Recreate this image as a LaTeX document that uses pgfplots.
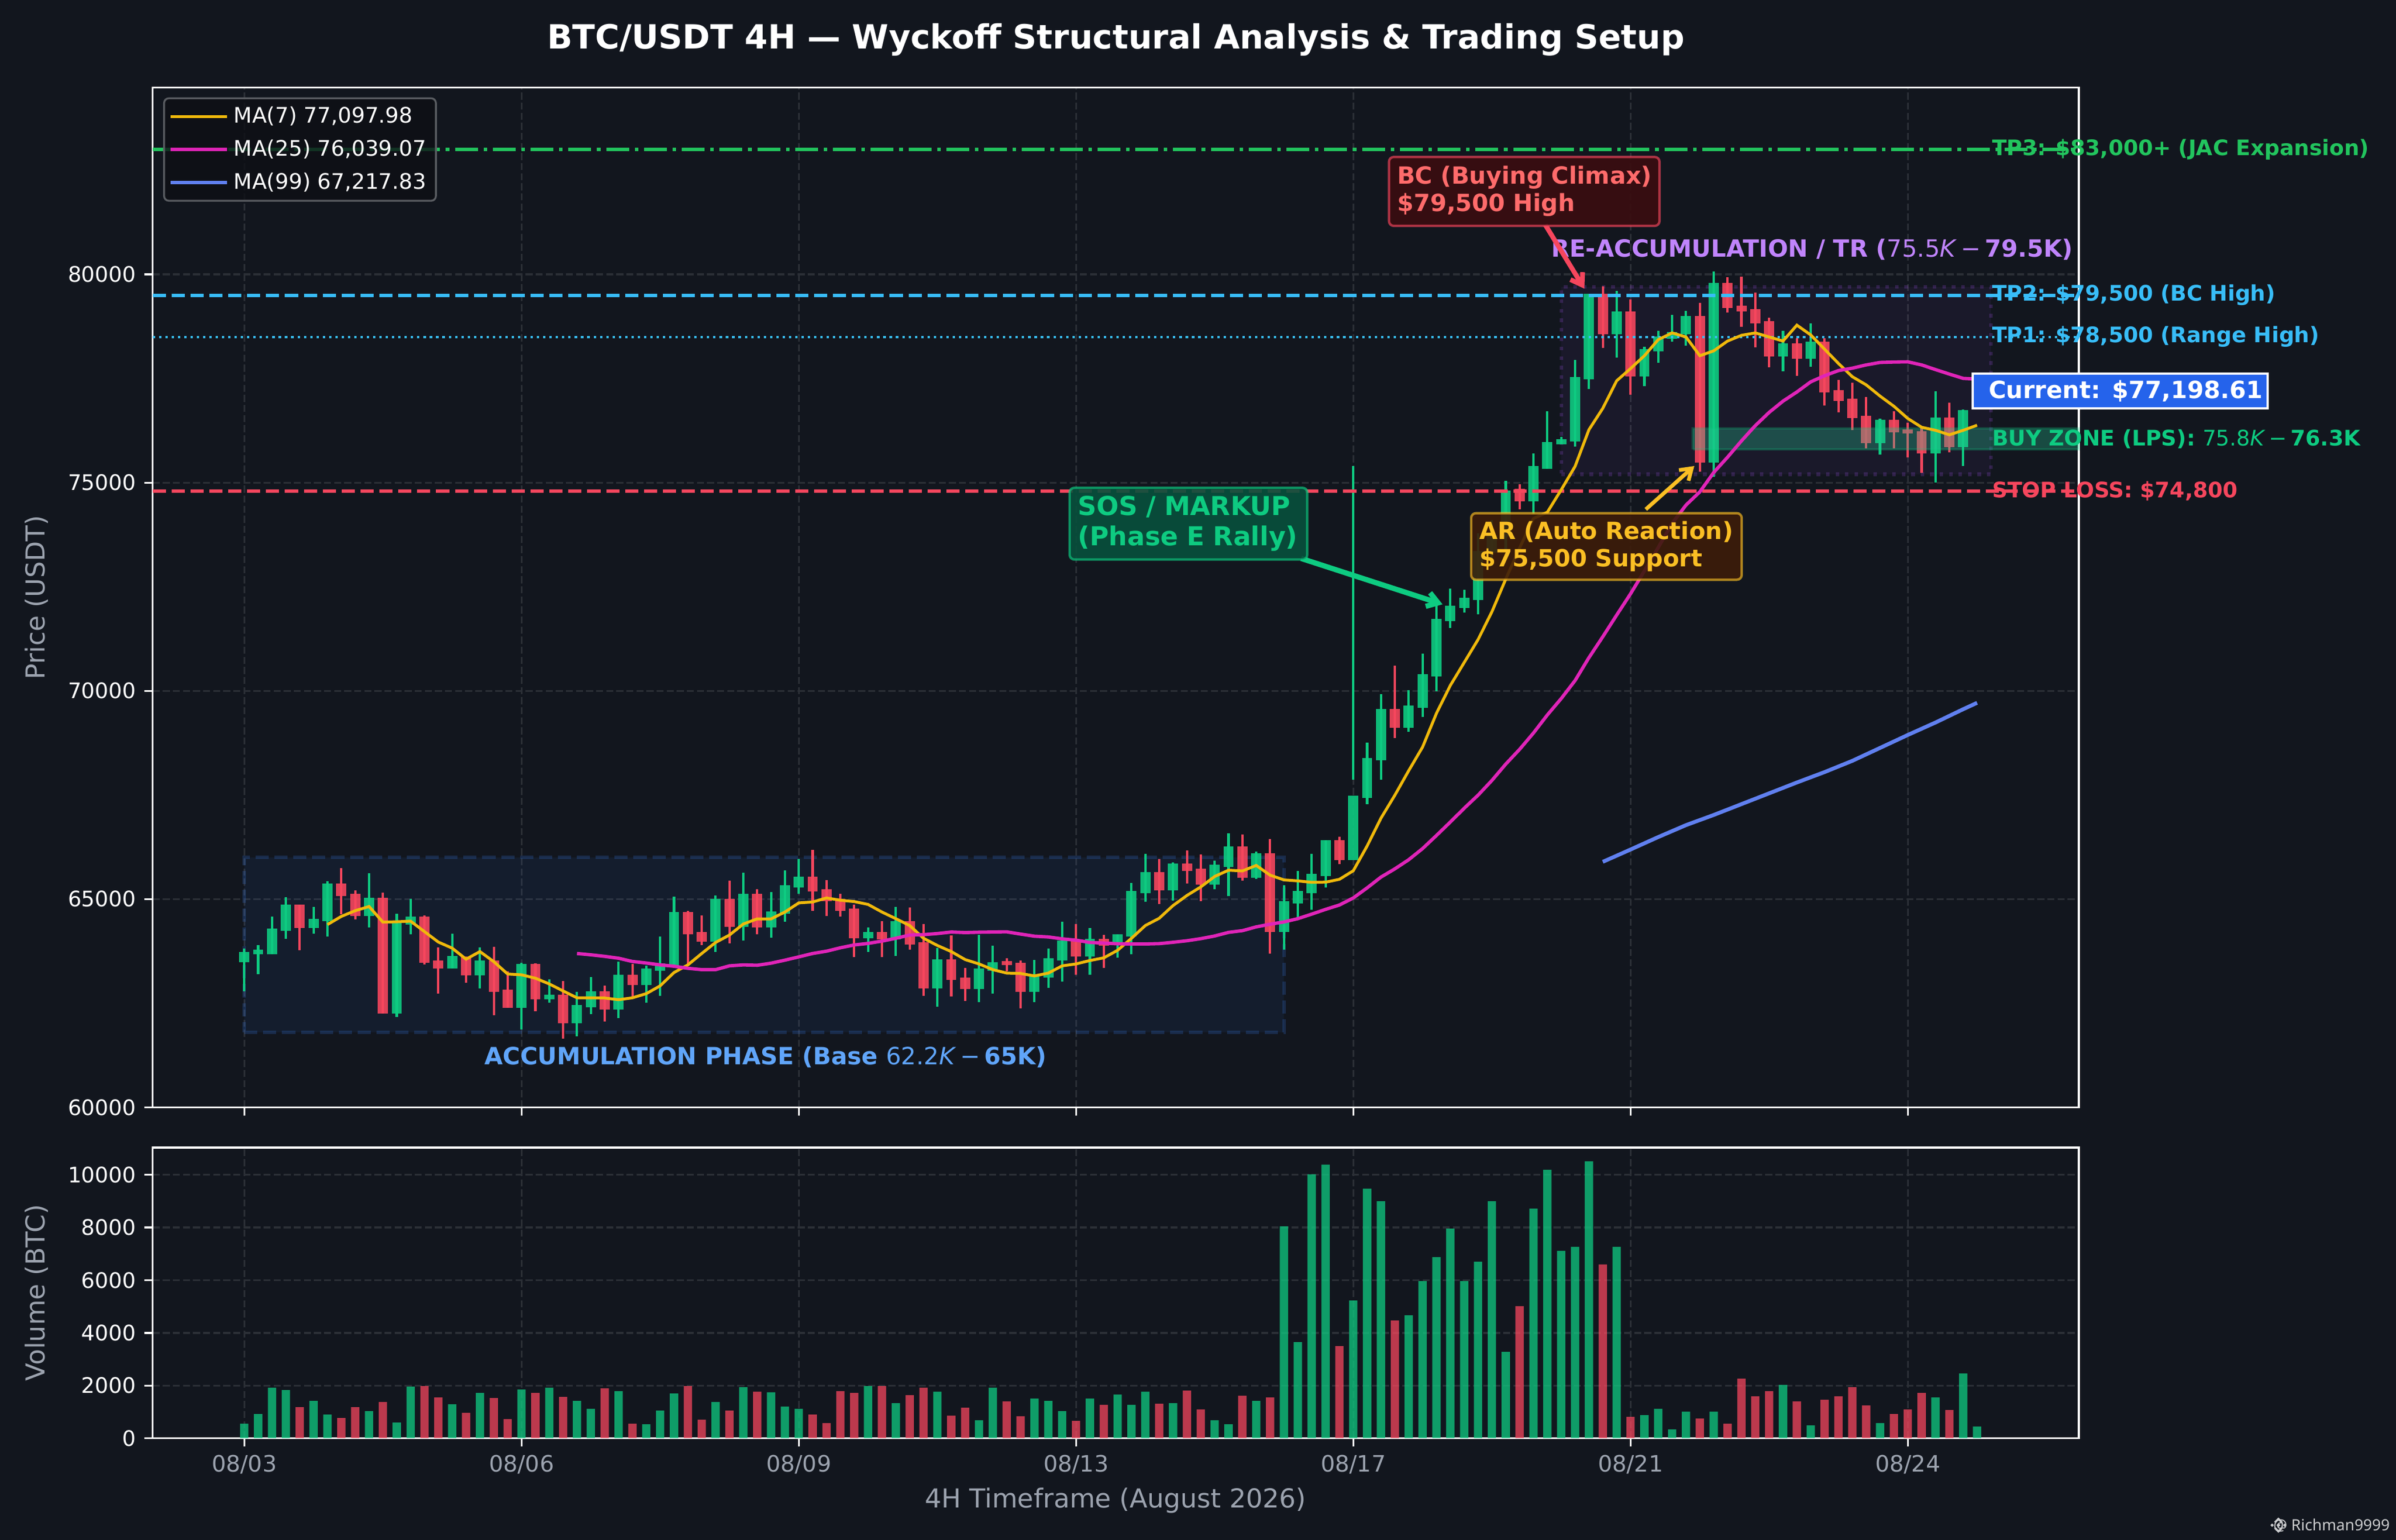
\documentclass[border=0pt]{standalone}
\usepackage{pgfplots}
\usepackage{pgfplotstable}
\usepackage{fontspec}
\setmainfont{DejaVu Sans}
\newfontfamily\wmfont{Noto Sans}
\pgfplotsset{compat=1.18}
\usetikzlibrary{arrows.meta}
\definecolor{bg}{HTML}{12161E}
\definecolor{gridc}{HTML}{2B2F36}
\definecolor{cg}{HTML}{0ECB81}
\definecolor{cr}{HTML}{F6465D}
\definecolor{ma7}{HTML}{F0B90B}
\definecolor{ma25}{HTML}{E024B8}
\definecolor{ma99}{HTML}{6080F0}
\definecolor{tpb}{HTML}{38BDF8}
\definecolor{tpg}{HTML}{22C55E}
\definecolor{lab}{HTML}{9CA3AF}
\definecolor{acc}{HTML}{3B82F6}
\definecolor{acct}{HTML}{60A5FA}
\definecolor{pur}{HTML}{A855F7}
\definecolor{purt}{HTML}{C084FC}
\definecolor{amb}{HTML}{FBBF24}
\definecolor{bcT}{HTML}{FF6B6B}
\newcommand\fs[1]{\fontsize{#1bp}{#1bp}\selectfont}
% i  body-low  body-high  low  high
\pgfplotstableread{
i bl bh lo hi
0 63484 63730 62780 63808
1 63676 63785 63191 63890
2 63676 64292 63676 64575
3 64237 64868 64050 65041
5 64306 64525 64173 64808
6 64470 65374 64105 65425
9 64594 65032 64324 65617
11 62251 64470 62173 64644
12 64388 64580 64160 65000
15 63333 63634 63333 64164
17 63169 63525 62858 63835
20 62388 63443 61872 63465
22 62593 62703 62516 63068
24 62018 62456 61707 62767
25 62401 62785 62242 63123
27 62347 63182 62146 63497
29 62936 63333 62516 63397
30 63278 63456 62680 64096
31 63374 64689 63374 65055
34 63977 65005 63726 65082
36 64333 65128 64000 65630
38 64320 64703 64077 65164
39 64648 65333 64461 65685
40 65279 65539 65123 65959
45 64059 64210 63726 64315
47 64032 64470 63630 64808
50 62854 63552 62420 63822
53 62840 63333 62529 64146
54 63278 63484 62735 63877
57 62771 63146 62529 63534
58 63114 63580 62872 63808
59 63525 64004 63023 64452
61 63621 64045 63187 64301
63 63899 64155 63589 64155
64 64100 65196 63680 65384
65 65142 65649 64931 66082
67 65210 65854 64959 65877
70 65347 65827 65233 65918
71 65772 66265 65069 66576
73 65511 66101 65480 66137
75 64210 64950 63781 65329
76 64895 65196 64562 65671
77 65142 65607 64740 66082
78 65553 66416 65274 66416
80 65936 67480 65936 65936
81 67424 68384 67283 68754
82 68329 69564 67865 69925
84 69115 69650 69013 70020
85 69595 70397 69367 70900
86 70350 71726 69996 72096
87 71671 72048 71506 72450
88 71993 72237 71876 72434
89 72182 73354 71844 73779
90 73315 73747 73000 74100
91 73700 74809 73400 75045
93 74549 75399 74235 75700
94 75332 75978 75332 76712
95 75924 76046 75924 76095
96 75993 77539 75861 77945
97 77485 79540 77255 79540
99 78566 79114 77999 79599
101 77554 78209 77319 78263
102 78155 78513 77876 78645
103 78459 78620 78385 79026
104 78566 79007 78287 79124
106 75484 79799 75136 80069
111 78033 78346 77671 78645
113 77979 78390 77779 78821
118 75949 76511 75675 76536
122 75704 76565 74999 77191
124 75856 76746 75401 76751
125 77000 77198 76900 77400
}\greencandles
\pgfplotstableread{
i bl bh lo hi
4 64306 64868 63776 64868
7 65073 65374 64630 65740
8 64594 65128 64507 65205
10 62251 65032 62251 65151
13 63470 64580 63434 64603
14 63333 63525 62735 63835
16 63169 63603 62986 63625
18 62771 63525 62205 63849
19 62388 62826 62388 63260
21 62593 63443 62310 63452
23 62018 62703 61652 63027
26 62347 62785 62063 62917
28 62936 63182 62666 63443
32 64155 64689 63443 64721
33 63977 64210 63899 64603
35 64333 65005 63940 65438
37 64320 65128 64160 65233
41 65183 65539 64721 66178
42 64950 65237 64598 65452
43 64717 65005 64584 65123
44 64059 64772 63603 64863
46 64032 64210 63603 64466
48 63909 64470 63790 64794
49 62854 63963 62680 64397
51 63059 63552 62666 64123
52 62840 63114 62557 63342
55 63415 63511 63260 63575
56 62771 63470 62379 63520
60 63621 63991 63187 64397
62 63881 64045 63342 64137
66 65210 65649 64877 65959
68 65676 65854 65370 66165
69 65347 65731 64945 66069
72 65511 66265 65438 66548
74 64210 66101 63694 66439
79 65936 66416 65836 66493
83 69115 69564 68871 70602
92 74549 74848 74361 74966
98 78566 79540 78229 79711
100 77554 79114 77108 79393
105 75484 79007 75259 79315
107 79197 79799 79080 79932
108 79114 79251 78742 79946
109 78826 79168 78248 79560
110 78033 78885 77764 78958
112 77979 78346 77558 78473
114 77172 78390 76849 78473
115 76966 77226 76687 77465
116 76555 77020 76262 77397
117 75949 76609 75831 77055
119 76213 76511 75831 76712
120 76184 76281 75611 76438
121 75704 76237 75234 76330
123 75856 76565 75724 76917
}\redcandles
\pgfplotstableread{
i v
0 555
1 923
2 1919
3 1833
5 1421
6 902
9 1032
11 599
12 1962
15 1291
17 1724
20 1854
22 1919
24 1421
25 1118
27 1789
29 534
30 1053
31 1703
34 1378
36 1941
38 1746
39 1205
40 1118
45 1984
47 1335
50 1768
53 685
54 1919
57 1508
58 1421
59 1032
61 1508
63 1659
64 1270
65 1768
67 1335
70 685
71 534
73 1421
75 8045
76 3651
77 10015
78 10383
80 5231
81 9473
82 8997
84 4668
85 5967
86 6876
87 7958
88 5967
89 6703
90 8997
91 3283
93 8716
94 10188
95 7114
96 7265
97 10512
99 7265
101 880
102 1118
103 339
104 1010
106 1010
111 2027
113 491
118 577
122 1551
124 2460
125 447
}\greenvol
\pgfplotstableread{
i v
4 1183
7 772
8 1183
10 1378
13 1984
14 1551
16 967
18 1530
19 729
21 1724
23 1573
26 1898
28 555
32 1984
33 707
35 1053
37 1768
41 902
42 577
43 1789
44 1724
46 1984
48 1638
49 1919
51 859
52 1162
55 1400
56 837
60 664
62 1270
66 1313
68 1811
69 1097
72 1616
74 1551
79 3499
83 4473
92 5014
98 6595
100 815
105 750
107 555
108 2266
109 1594
110 1789
112 1400
114 1465
115 1594
116 1941
117 1248
119 923
120 1097
121 1724
123 1075
}\redvol
\pgfplotstableread{
i p
6 64388
7 64584
8 64721
9 64822
10 64447
11 64456
12 64470
13 64219
14 63968
15 63822
16 63557
17 63740
18 63497
19 63201
20 63182
21 63100
22 62963
23 62794
24 62630
25 62630
26 62625
27 62584
28 62630
29 62730
30 62917
31 63237
32 63420
33 63694
34 63959
35 64137
36 64402
37 64525
38 64525
39 64689
40 64909
41 64931
42 65027
43 64973
44 64941
45 64872
46 64689
47 64530
48 64365
49 64059
50 63886
51 63740
52 63548
53 63443
54 63306
55 63223
56 63214
57 63155
58 63223
59 63397
60 63443
61 63525
62 63589
63 63771
64 64059
65 64365
66 64539
67 64845
68 65087
69 65292
70 65543
71 65694
72 65676
73 65808
74 65575
75 65461
76 65438
77 65402
78 65406
79 65475
80 65680
81 66276
82 66945
83 67495
84 68085
85 68651
86 69461
87 70130
88 70680
89 71231
90 71899
91 72685
92 73433
93 74140
94 74290
95 74828
96 75391
97 76271
98 76785
99 77446
100 77739
101 78048
102 78434
103 78596
104 78498
105 78048
106 78165
107 78400
108 78537
109 78596
110 78498
111 78400
112 78782
113 78547
114 78204
115 77862
116 77544
117 77348
118 77079
119 76834
120 76541
121 76330
122 76257
123 76149
124 76257
125 76379
}\maseven
\pgfplotstableread{
i p
24 63694
25 63662
26 63625
27 63580
28 63502
29 63465
30 63420
31 63388
32 63338
33 63306
34 63306
35 63397
36 63420
37 63411
38 63461
39 63534
40 63612
41 63694
42 63749
43 63831
44 63899
45 63936
46 63991
47 64059
48 64137
49 64146
50 64173
51 64210
52 64196
53 64205
54 64210
55 64214
56 64160
57 64109
58 64091
59 64045
60 64014
61 63959
62 63945
63 63927
64 63922
65 63922
66 63931
67 63963
68 64000
69 64050
70 64114
71 64201
72 64242
73 64333
74 64397
75 64452
76 64530
77 64639
78 64753
79 64858
80 65027
81 65270
82 65529
83 65726
84 65946
85 66213
86 66528
87 66850
88 67181
89 67495
90 67849
91 68242
92 68596
93 68989
94 69422
95 69815
96 70248
97 70798
98 71300
99 71820
100 72330
101 72880
102 73443
103 74021
104 74461
105 74779
106 75244
107 75611
108 76002
109 76369
110 76687
111 76957
112 77177
113 77421
114 77568
115 77691
116 77749
117 77827
118 77886
119 77896
120 77901
121 77827
122 77715
123 77607
124 77504
125 77486
}\matwentyfive
\pgfplotstableread{
i p
98 65895
100 66190
102 66490
104 66776
106 67020
108 67280
110 67540
112 67800
114 68050
116 68320
118 68630
120 68941
122 69240
124 69560
125 69713
}\manintynine
\tikzset{
  dashmpl/.style={dash pattern=on 5.55bp off 2.4bp},
}
\pgfplotsset{
  myaxis/.style={
    scale only axis, clip=false,
    xmin=-6.61, xmax=132.34,
    xtick={0,20,40,60,80,100,120},
    tick align=outside, xtick pos=bottom, ytick pos=left,
    major tick length=3.5bp,
    tick style={white,line width=0.8bp},
    axis line style={white,line width=0.8bp},
    grid=major,
    grid style={gridc,line width=0.8bp,dash pattern=on 2.96bp off 1.28bp},
    scaled ticks=false,
    /pgf/number format/assume math mode=true,
    /pgf/number format/1000 sep={},
    yticklabel style={text=white,font=\fs{9}},
    xticklabel style={text=lab,font=\fs{9.5}},
    label style={text=lab,font=\fs{11}},
    ylabel style={at={(axis description cs:-0.0603,0.5)},anchor=center},
  },
  wick/.style={draw=none,no markers,forget plot,
    error bars/.cd,y dir=plus,y explicit,error mark=none,
    error bar style={solid,draw=#1,line width=1bp}},
  body/.style={draw=none,no markers,forget plot,
    error bars/.cd,y dir=plus,y explicit,error mark=none,
    error bar style={solid,draw=#1,line width=4.3bp,draw opacity=0.9}},
}
\begin{document}
\begin{tikzpicture}
\fill[bg] (0,0) rectangle (1008bp,648bp);
\useasboundingbox (0,0) rectangle (1008bp,648bp);
\begin{axis}[myaxis,
  at={(64.22bp,182.06bp)}, anchor=south west,
  width=810.34bp, height=429.14bp,
  ymin=60000, ymax=84490,
  ytick={60000,65000,70000,75000,80000},
  xticklabels={},
  ylabel={Price (USDT)},
  legend style={at={(0.00545,0.9903)},anchor=north west,
    fill=black!30!bg,fill opacity=0.8,text opacity=1,draw=white!30!bg,
    line width=0.8bp,rounded corners=2bp,font=\fs{9},text=white,
    row sep=1.6bp,inner xsep=2bp,inner ysep=1.5bp},
  legend cell align=left,
  legend image code/.code={\draw[#1] (0bp,0bp) -- (19.2bp,0bp); \path (0bp,0bp) -- (23.7bp,0bp);},
]
% shaded structure boxes
\addplot[forget plot,fill=acc,fill opacity=0.07,draw=acc,draw opacity=0.2,line width=1.5bp,dashmpl]
  coordinates {(0,61800)(75,61800)(75,66000)(0,66000)(0,61800)};
\addplot[forget plot,fill=pur,fill opacity=0.06,draw=pur,draw opacity=0.2,line width=1.5bp,dash pattern=on 1.5bp off 2.48bp]
  coordinates {(95,75200)(126,75200)(126,79700)(95,79700)(95,75200)};
% candles
\addplot[wick=cg] table[x=i,y=lo,y error expr=\thisrow{hi}-\thisrow{lo}]{\greencandles};
\addplot[wick=cr] table[x=i,y=lo,y error expr=\thisrow{hi}-\thisrow{lo}]{\redcandles};
\addplot[forget plot,cg,line width=1bp] coordinates {(80,67865)(80,75398)};
\addplot[body=cg] table[x=i,y=bl,y error expr=\thisrow{bh}-\thisrow{bl}]{\greencandles};
\addplot[body=cr] table[x=i,y=bl,y error expr=\thisrow{bh}-\thisrow{bl}]{\redcandles};
% buy zone
\addplot[forget plot,fill={rgb,255:red,40;green,200;blue,150},fill opacity=0.3,draw=cg,draw opacity=0.25,line width=1bp]
  coordinates {(104.5,75800)(132.34,75800)(132.34,76300)(104.5,76300)(104.5,75800)};
% levels
\addplot[forget plot,tpg,line width=1.5bp,dash pattern=on 9.6bp off 2.4bp on 1.5bp off 2.4bp] coordinates {(-6.61,83000)(132.34,83000)};
\addplot[forget plot,tpb,line width=1.5bp,dashmpl] coordinates {(-6.61,79500)(132.34,79500)};
\addplot[forget plot,tpb,line width=1bp,dash pattern=on 1bp off 1.65bp] coordinates {(-6.61,78500)(132.34,78500)};
\addplot[forget plot,cr,line width=1.5bp,dashmpl] coordinates {(-6.61,74800)(132.34,74800)};
% moving averages
\addplot[ma7,line width=1.2bp] table[x=i,y=p]{\maseven};
\addlegendentry{MA(7) 77,097.98}
\addplot[ma25,line width=1.4bp] table[x=i,y=p]{\matwentyfive};
\addlegendentry{MA(25) 76,039.07}
\addplot[ma99,line width=1.6bp] table[x=i,y=p]{\manintynine};
\addlegendentry{MA(99) 67,217.83}
% level labels
\tikzset{lv/.style={anchor=west,inner sep=0pt,font=\fs{9}\bfseries}}
\node[lv,text=tpg] at (axis cs:126.05,83000) {TP3: \$83,000+ (JAC Expansion)};
\node[lv,text=tpb] at (axis cs:126.05,79500) {TP2: \$79,500 (BC High)};
\node[lv,text=tpb] at (axis cs:126.05,78500) {TP1: \$78,500 (Range High)};
\node[lv,text=cg] at (axis cs:126.05,76050) {BUY ZONE (LPS): {\mdseries 75.8\textit{K}\,−\,}76.3K};
\node[lv,text=cr] at (axis cs:126.05,74800) {STOP LOSS: \$74,800};
% phase labels
\node[text=acct,font=\fs{10}\bfseries,inner sep=0pt] at (axis cs:37.6,61200) {ACCUMULATION PHASE (Base {\mdseries 62.2\textit{K}\,−\,}65K)};
\node[text=purt,font=\fs{10}\bfseries,inner sep=0pt] at (axis cs:113.1,80600) {RE-ACCUMULATION / TR ({\mdseries 75.5\textit{K}\,−\,}79.5K)};
% current price
\node[anchor=west,fill={rgb,255:red,37;green,99;blue,235},draw=white,line width=1bp,text=white,
  font=\fs{10}\bfseries,inner xsep=0pt,inner ysep=0pt,minimum height=14.5bp,minimum width=124bp,
  text width=124bp,align=right] at (axis cs:124.6,77200) {Current: \$77,198.61\hspace*{2bp}};
% annotations
\draw[-{Straight Barb[length=4.5bp,width=6bp]},cr,line width=2bp] (axis cs:93.85,81192) -- (axis cs:96.67,79658);
\draw[-{Straight Barb[length=4.5bp,width=6bp]},amb,line width=1.6bp] (axis cs:101.1,74358) -- (axis cs:104.6,75399);
\draw[-{Straight Barb[length=4.5bp,width=6bp]},cg,line width=2.2bp] (axis cs:76.24,73180) -- (axis cs:86.44,72078);
\tikzset{ann/.style={anchor=north west,rounded corners=2bp,line width=1bp,fill opacity=0.9,draw opacity=0.65,text opacity=1,
   inner xsep=3.5bp,inner ysep=0pt,align=left}}
\node[ann,fill={rgb,255:red,58;green,13;blue,16},draw=cr,text=bcT,font=\fontsize{10}{11.6}\selectfont\bfseries,
  minimum width=113.8bp,minimum height=29bp,text width=106.8bp] at (axis cs:82.49,82849) {\mbox{BC (Buying Climax)}\\\mbox{\$79,500 High}};
\node[ann,fill={rgb,255:red,61;green,28;blue,10},draw=amb,text=amb,font=\fontsize{10}{11.6}\selectfont\bfseries,
  minimum width=113.8bp,minimum height=28bp,text width=106.8bp] at (axis cs:88.42,74295) {\mbox{AR (Auto Reaction)}\\\mbox{\$75,500 Support}};
\node[ann,fill={rgb,255:red,8;green,80;blue,60},draw=cg,text=cg,font=\fontsize{11}{12.8}\selectfont\bfseries,
  minimum width=100bp,minimum height=30.2bp,text width=93bp] at (axis cs:59.45,74906) {\mbox{SOS / MARKUP}\\\mbox{(Phase E Rally)}};
\end{axis}
\begin{axis}[myaxis,
  at={(64.22bp,42.79bp)}, anchor=south west,
  width=810.34bp, height=122.33bp,
  ymin=0, ymax=11032,
  ytick={0,2000,4000,6000,8000,10000},
  xticklabels={08/03,08/06,08/09,08/13,08/17,08/21,08/24},
  ylabel={Volume (BTC)},
  xlabel={4H Timeframe (August 2026)},
  xlabel style={at={(axis description cs:0.5,-0.2144)},anchor=center},
]
\addplot[ybar,bar width=3.5bp,bar shift=0pt,fill=cg,fill opacity=0.75,draw=none] table[x=i,y=v]{\greenvol};
\addplot[ybar,bar width=3.5bp,bar shift=0pt,fill=cr,fill opacity=0.75,draw=none] table[x=i,y=v]{\redvol};
\end{axis}
% title
\node[text=white,font=\fs{14}\bfseries,inner sep=0pt] at (469.44bp,631.2bp) {BTC/USDT 4H — Wyckoff Structural Analysis \& Trading Setup};
% watermark
\node[anchor=east,text=white!78!bg,font=\wmfont\fs{6.5},inner sep=0pt] at (1005.6bp,6.24bp) {@ Richman9999};
\begin{scope}[shift={(958.5bp,6.24bp)},x=0.24bp,y=0.24bp]
\fill[white!78!bg] (0,13.5)--(7.5,6)--(5,3.5)--(0,8.5)--(-5,3.5)--(-7.5,6)--cycle;
\fill[white!78!bg] (0,-13.5)--(7.5,-6)--(5,-3.5)--(0,-8.5)--(-5,-3.5)--(-7.5,-6)--cycle;
\fill[white!78!bg] (0,3.5)--(3.5,0)--(0,-3.5)--(-3.5,0)--cycle;
\fill[white!78!bg] (11,3)--(14,0)--(11,-3)--(8,0)--cycle;
\fill[white!78!bg] (-11,3)--(-8,0)--(-11,-3)--(-14,0)--cycle;
\end{scope}
\end{tikzpicture}
\end{document}
